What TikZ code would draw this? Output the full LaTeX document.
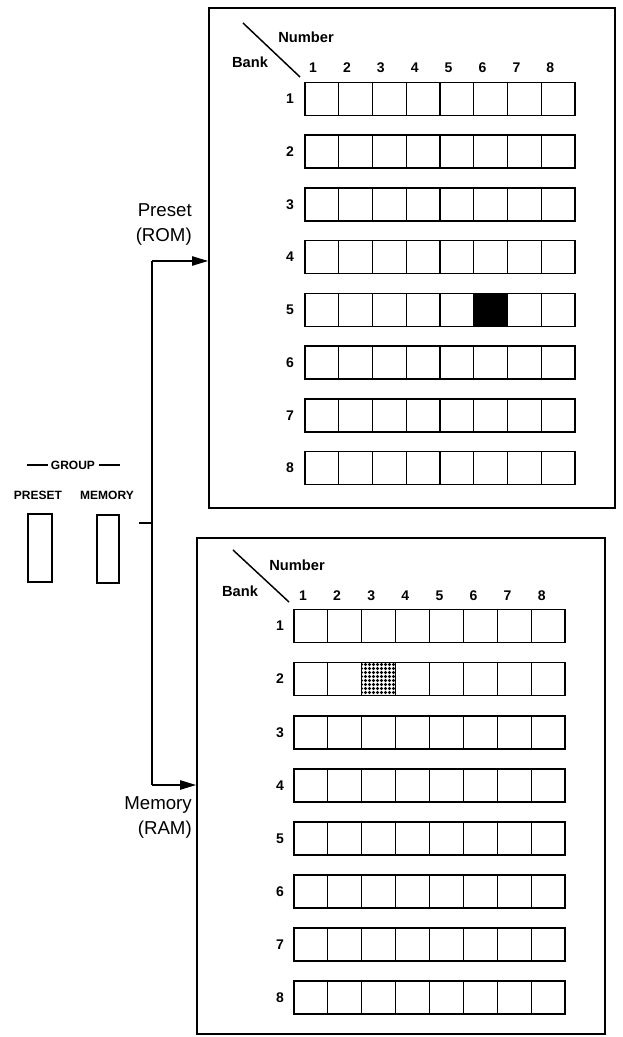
\documentclass[tikz,border=0pt]{standalone}
\usepackage{fontspec}
\setmainfont{Liberation Sans}
\usetikzlibrary{arrows.meta,fit,patterns.meta}

\tikzdeclarepattern{
  name=finegrid,
  type=uncolored,
  bounding box={(0pt,0pt) and (2.6pt,2.6pt)},
  tile size={(2.6pt,2.6pt)},
  code={\draw[line width=1.05pt] (0pt,1.3pt) -- (2.6pt,1.3pt) (1.3pt,0pt) -- (1.3pt,2.6pt);}
}

\tikzset{
  panel/.style={draw, line width=1.4pt, inner sep=0pt},
  cellrow/.style={draw, line width=1.2pt},
  celldiv/.style={line width=0.9pt},
  num/.style={font=\bfseries\fontsize{10.5}{12}\selectfont, inner sep=0pt},
  hdr/.style={font=\bfseries\fontsize{11}{13}\selectfont, inner sep=0pt},
  big/.style={font=\fontsize{14}{18.75}\selectfont, align=right, inner sep=0pt},
  grp/.style={font=\bfseries\fontsize{9}{11}\selectfont, inner sep=0pt},
  btn/.style={draw, line width=1.3pt, inner sep=0pt},
  wire/.style={line width=1.1pt},
  tip/.style={-{Triangle[length=12pt,width=7pt]}}
}

\begin{document}
\begin{tikzpicture}[x=0.75pt,y=-0.75pt]
\useasboundingbox (0,0) rectangle (622,1037);

% ---------- upper panel (ROM) ----------
\node[panel, fit={(209,8) (615,508)}] (rom) {};
\draw[line width=1.1pt] (243,23) -- (300,77);
\node[hdr] (romnum) at (306,37) {Number};
\node[hdr] (rombank) at (250,62) {Bank};
\foreach \j in {1,...,8} \node[num] at ({313+33.9*(\j-1)},68) {\j};
\fill[black] ({305+33.75*5},{99+52.7*4-16.5}) rectangle ({305+33.75*6},{99+52.7*4+16.5});
\foreach \i in {1,...,8} {
  \pgfmathsetmacro\yc{99+52.7*(\i-1)}
  \draw[cellrow] (305,\yc-16.5) rectangle (575,\yc+16.5);
  \foreach \j in {1,...,7} \draw[celldiv] ({305+33.75*\j},\yc-16.5) -- ({305+33.75*\j},\yc+16.5);
  \node[num] at (290,\yc) {\i};
}

% ---------- lower panel (RAM) ----------
\node[panel, fit={(197,538) (605,1034)}] (ram) {};
\draw[line width=1.1pt] (233,550) -- (289,602);
\node[hdr] (ramnum) at (297,565) {Number};
\node[hdr] (rambank) at (240,591) {Bank};
\foreach \j in {1,...,8} \node[num] at ({303+34.1*(\j-1)},596) {\j};
\fill[pattern={finegrid}, pattern color=black] ({294+33.875*2},{626+53.1-16.5}) rectangle ({294+33.875*3},{626+53.1+16.5});
\foreach \i in {1,...,8} {
  \pgfmathsetmacro\yc{626+53.1*(\i-1)}
  \draw[cellrow] (294,\yc-16.5) rectangle (565,\yc+16.5);
  \foreach \j in {1,...,7} \draw[celldiv] ({294+33.875*\j},\yc-16.5) -- ({294+33.875*\j},\yc+16.5);
  \node[num] at (280,\yc) {\i};
}

% ---------- group buttons ----------
\node[grp] (group) at (73,465) {GROUP};
\draw[line width=1pt] (27,465) -- (48,465);
\draw[line width=1pt] (99,465) -- (120,465);
\node[grp] (lpreset) at (38,495) {PRESET};
\node[grp] (lmemory) at (107,495) {MEMORY};
\node[btn, fit={(28,514) (52,582)}] (bpreset) {};
\node[btn, fit={(97,515) (119,583)}] (bmemory) {};

% ---------- connectors ----------
\coordinate (jt) at (152,261);
\coordinate (jb) at (152,785);
\coordinate (js) at (139,523);
\draw[wire] (jt) -- (jb);
\draw[wire] (js) -- (js -| jt);
\draw[wire,tip] (jt) -- (rom.west |- jt);
\draw[wire,tip] (jb) -- (ram.west |- jb);

\node[big, anchor=east] (romlbl) at (192,225) {Preset\\(ROM)};
\node[big, anchor=east] (ramlbl) at (192,818) {Memory\\(RAM)};
\end{tikzpicture}
\end{document}
